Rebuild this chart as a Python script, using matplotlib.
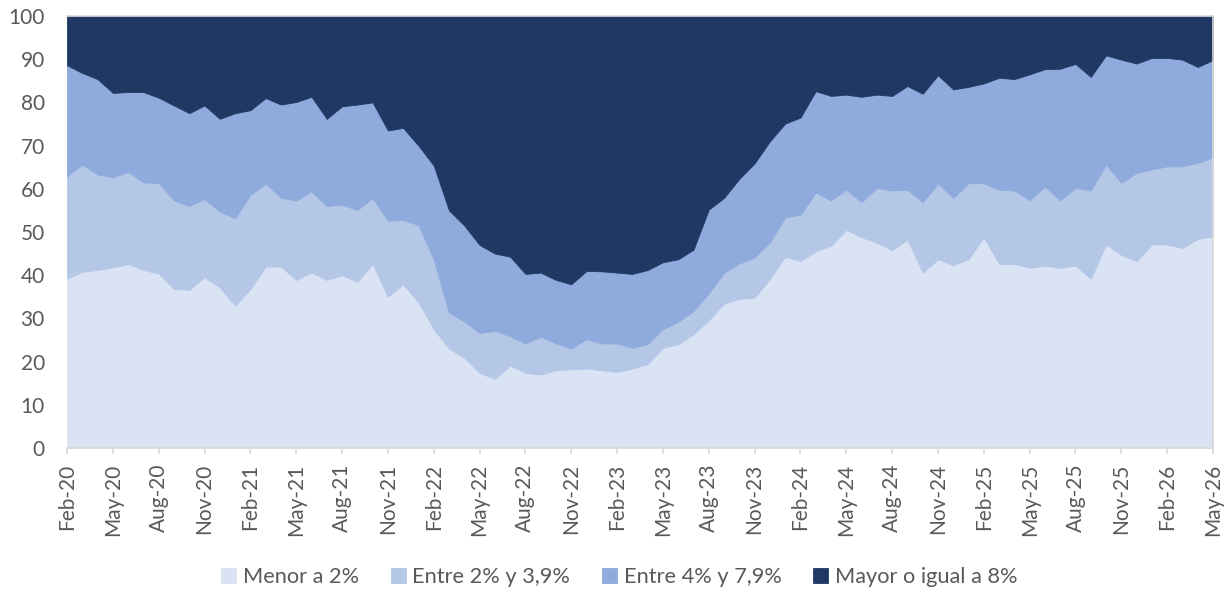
import matplotlib
matplotlib.use("Agg")
import matplotlib.pyplot as plt
import numpy as np

plt.rcParams['font.family'] = ['Lato', 'DejaVu Sans']

series_names = ["Menor a 2%", "Entre 2% y 3,9%", "Entre 4% y 7,9%", "Mayor o igual a 8%"]
colors = ["#DAE3F3", "#B4C7E7", "#8FAADC", "#203864"]

tick_labels = ["Feb-20", "May-20", "Aug-20", "Nov-20", "Feb-21", "May-21", "Aug-21", "Nov-21",
               "Feb-22", "May-22", "Aug-22", "Nov-22", "Feb-23", "May-23", "Aug-23", "Nov-23",
               "Feb-24", "May-24", "Aug-24", "Nov-24", "Feb-25", "May-25", "Aug-25", "Nov-25",
               "Feb-26", "May-26"]

menor = [39.2, 40.8, 41.2, 41.8, 42.6, 41.2, 40.4, 36.8, 36.6, 39.5, 37.2, 32.9, 36.8, 42.0, 42.0, 38.9,
         40.6, 38.9, 40.0, 38.5, 42.6, 35.0, 37.9, 33.7, 27.5, 23.0, 20.9, 17.4, 16.0, 19.1, 17.4, 17.0,
         18.0, 18.2, 18.4, 18.0, 17.6, 18.4, 19.4, 23.2, 24.0, 26.3, 29.6, 33.4, 34.5, 34.8, 39.1, 44.3,
         43.3, 45.5, 46.8, 50.5, 48.8, 47.5, 45.8, 48.2, 40.6, 43.7, 42.3, 43.7, 48.8, 42.6, 42.6, 41.7,
         42.2, 41.7, 42.2, 39.2, 47.1, 44.7, 43.2, 47.1, 47.1, 46.3, 48.4, 48.9]

entre_2_39 = [23.7, 24.8, 22.1, 20.9, 21.3, 20.3, 20.9, 20.5, 19.4, 18.1, 17.5, 20.3, 21.8, 19.2, 15.9, 18.4,
              18.8, 17.1, 16.3, 16.6, 15.2, 17.6, 14.9, 17.9, 16.2, 8.3, 8.4, 9.2, 11.1, 6.8, 6.8, 8.8,
              6.2, 4.8, 6.8, 6.2, 6.6, 4.8, 4.7, 4.3, 5.2, 5.4, 6.2, 7.2, 8.2, 9.3, 8.5, 9.1,
              10.7, 13.6, 10.5, 9.3, 8.1, 12.7, 13.8, 11.6, 16.3, 17.5, 15.6, 17.6, 12.5, 17.2, 17.0, 15.6,
              18.3, 15.6, 18.0, 20.4, 18.5, 16.7, 20.5, 17.4, 18.1, 18.9, 17.6, 18.4]

entre_4_79 = [25.7, 21.2, 22.1, 19.5, 18.5, 20.9, 19.8, 22.0, 21.5, 21.7, 21.5, 24.3, 19.6, 19.8, 21.6, 22.8,
              21.9, 20.2, 22.8, 24.4, 22.2, 20.9, 21.3, 18.4, 21.7, 23.7, 22.2, 20.4, 17.9, 18.4, 16.1, 14.8,
              14.7, 14.9, 15.8, 16.7, 16.4, 17.1, 17.1, 15.5, 14.5, 14.2, 19.4, 17.3, 19.6, 21.8, 23.4, 21.7,
              22.5, 23.5, 24.2, 22.0, 24.4, 21.6, 21.9, 24.0, 25.1, 25.1, 25.1, 22.3, 23.1, 25.9, 25.8, 29.2,
              27.2, 30.5, 28.7, 26.3, 25.3, 28.5, 25.3, 25.8, 25.1, 24.7, 22.2, 22.5]

mayor_8 = [11.4, 13.2, 14.6, 17.8, 17.6, 17.6, 18.9, 20.7, 22.5, 20.7, 23.8, 22.5, 21.8, 19.0, 20.5, 19.9,
           18.7, 23.8, 20.9, 20.5, 20.0, 26.5, 25.9, 30.0, 34.6, 45.0, 48.5, 53.0, 55.0, 55.7, 59.7, 59.4,
           61.1, 62.1, 59.0, 59.1, 59.4, 59.7, 58.8, 57.0, 56.3, 54.1, 44.8, 42.1, 37.7, 34.1, 29.0, 24.9,
           23.5, 17.4, 18.5, 18.2, 18.7, 18.2, 18.5, 16.2, 18.0, 13.7, 17.0, 16.4, 15.6, 14.3, 14.6, 13.5,
           12.3, 12.2, 11.1, 14.1, 9.1, 10.1, 11.0, 9.7, 9.7, 10.1, 11.8, 10.2]

W, H = 1231, 592
fig = plt.figure(figsize=(W / 100, H / 100), dpi=100)
ax = fig.add_axes([67 / W, 1 - 448 / H, (1213 - 67) / W, (448 - 16) / H])

x = np.arange(len(menor))
polys = ax.stackplot(x, menor, entre_2_39, entre_4_79, mayor_8, colors=colors,
                     labels=series_names, linewidth=0.6)
for p, c in zip(polys, colors):
    p.set_edgecolor(c)

ax.set_xlim(0, len(menor) - 1)
ax.set_ylim(0, 100)
ax.set_yticks(np.arange(0, 101, 10))
ax.set_xticks(np.arange(0, len(menor), 3))
ax.set_xticklabels(tick_labels, rotation=90)

gray = "#595959"
ax.tick_params(axis='y', length=0, pad=16, labelsize=15, labelcolor=gray)
ax.tick_params(axis='x', length=4.5, width=1.2, color="#D9D9D9", pad=7, labelsize=15, labelcolor=gray)
ax.spines['left'].set_visible(False)
for s in ['top', 'right', 'bottom']:
    ax.spines[s].set_color("#D9D9D9")
    ax.spines[s].set_linewidth(1.2)

leg = fig.legend(handles=polys, labels=series_names, loc='center', ncol=4,
                 bbox_to_anchor=(0.503, 1 - 577 / H), frameon=False, fontsize=15.7,
                 handlelength=0.7, handleheight=0.7, handletextpad=0.3, columnspacing=1.45,
                 labelcolor=gray)

fig.savefig("out.png", dpi=100)
